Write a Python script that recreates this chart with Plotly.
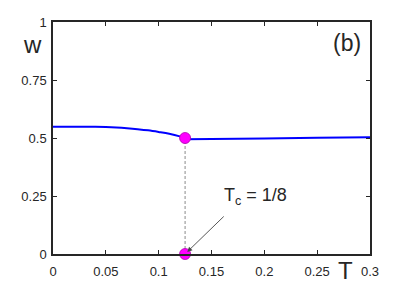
import plotly.graph_objects as go

# Data
T_low = [0.0, 0.02, 0.04, 0.05, 0.06, 0.07, 0.08, 0.09, 0.10, 0.11, 0.12, 0.125]
w_low = [0.548, 0.548, 0.548, 0.547, 0.545, 0.542, 0.538, 0.533, 0.526, 0.518, 0.507, 0.500]
T_high = [0.125, 0.13, 0.15, 0.20, 0.25, 0.30]
w_high = [0.495, 0.495, 0.496, 0.498, 0.501, 0.503]
Tc = 0.125
wc = 0.5
x_ticks = [0, 0.05, 0.1, 0.15, 0.2, 0.25, 0.3]
x_labels = ["0", "0.05", "0.1", "0.15", "0.2", "0.25", "0.3"]
y_ticks = [0, 0.25, 0.5, 0.75, 1]
y_labels = ["0", "0.25", "0.5", "0.75", "1"]

font = "Liberation Sans, Arial, sans-serif"

fig = go.Figure()
fig.add_trace(go.Scatter(x=T_low, y=w_low, mode="lines", line=dict(color="#0000ff", width=2, shape="spline"), hoverinfo="skip"))
fig.add_trace(go.Scatter(x=T_high, y=w_high, mode="lines", line=dict(color="#0000ff", width=2), hoverinfo="skip"))
fig.add_trace(go.Scatter(x=[Tc, Tc], y=[0, wc], mode="lines", line=dict(color="#8a8a8a", width=1, dash="3px,2px"), hoverinfo="skip"))
fig.add_trace(go.Scatter(x=[Tc, Tc], y=[wc, 0], mode="markers", cliponaxis=False,
                         marker=dict(color="#ff00ff", size=11, line=dict(color="#b000b0", width=0.8)), hoverinfo="skip"))

axis_common = dict(showline=True, linecolor="#262626", linewidth=1.5, mirror="ticks", ticks="inside",
                   ticklen=4, tickwidth=1.2, tickcolor="#262626", showgrid=False, zeroline=False,
                   automargin=False,
                   tickfont=dict(family=font, size=13, color="#262626"))

fig.update_xaxes(range=[0, 0.3], tickvals=x_ticks, ticktext=x_labels, ticklabelstandoff=5, **axis_common)
fig.update_yaxes(range=[0, 1], tickvals=y_ticks, ticktext=y_labels, ticklabelstandoff=2, **axis_common)

fig.add_annotation(x=-0.066, y=0.905, xref="paper", yref="paper", text="w", showarrow=False,
                   xanchor="center", yanchor="middle",
                   font=dict(family=font, size=24, color="#262626"))
fig.add_annotation(x=0.924, y=-0.07, xref="paper", yref="paper", text="T", showarrow=False,
                   xanchor="center", yanchor="middle", borderpad=0,
                   font=dict(family=font, size=24, color="#262626"))
fig.add_annotation(x=0.929, y=0.908, xref="paper", yref="paper", text="(b)", showarrow=False,
                   xanchor="center", yanchor="middle",
                   font=dict(family=font, size=23, color="#262626"))
fig.add_annotation(x=Tc, y=0.0, xref="x", yref="y", ax=0.163, ay=0.168, axref="x", ayref="y",
                   text="", showarrow=True, arrowhead=2, arrowsize=1.1, arrowwidth=0.9, arrowcolor="#444444",
                   standoff=3)
fig.add_annotation(x=0.192, y=0.25, xref="x", yref="y", text="T<sub>c</sub> = 1/8", showarrow=False,
                   xanchor="center", yanchor="middle",
                   font=dict(family=font, size=18, color="#262626"))

fig.update_layout(width=409, height=286, margin=dict(l=53, r=39, t=22, b=32),
                  plot_bgcolor="white", paper_bgcolor="white", showlegend=False)

fig.write_html("out.html", config={"displayModeBar": False},
               post_script="document.body.style.margin='0';")
